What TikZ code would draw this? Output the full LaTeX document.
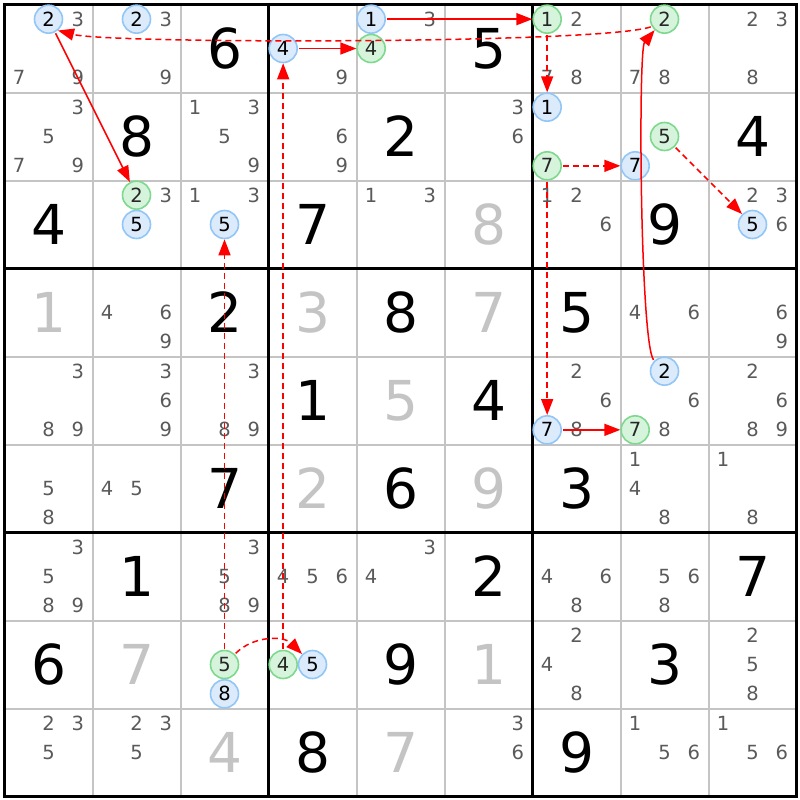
\documentclass[tikz,border=0pt]{standalone}
\usepackage{fontspec}
\setmainfont{DejaVu Sans}
\usetikzlibrary{arrows.meta}
\definecolor{candgray}{HTML}{5A5A5A}
\definecolor{solvgray}{HTML}{C4C4C4}
\definecolor{thingrid}{HTML}{C4C4C4}
\definecolor{bluefill}{HTML}{DCEBFC}
\definecolor{bluedraw}{HTML}{92C6F6}
\definecolor{greenfill}{HTML}{D6F4DC}
\definecolor{greendraw}{HTML}{7ED88E}
\definecolor{arrred}{HTML}{FF0000}
\tikzset{
  cnd/.style={inner sep=0pt, font=\fontsize{19.5}{19.5}\selectfont, text=candgray},
  bc/.style={circle, draw=bluedraw, fill=bluefill, line width=1.6pt, minimum size=28pt, text=black},
  gc/.style={circle, draw=greendraw, fill=greenfill, line width=1.6pt, minimum size=28pt, text=black!85},
  big/.style={inner sep=0pt, font=\fontsize{55}{55}\selectfont, text=black},
  solv/.style={big, text=solvgray},
  arr/.style={draw=arrred, line width=1.5pt, -{Triangle[length=16pt,width=12pt]}, shorten <=1pt},
  dsh/.style={dash pattern=on 6pt off 4pt}
}
\newcommand\cand[4][]{%
  \pgfmathsetmacro\candx{4.5+88*(#3-1)+88/6+88/3*mod(#4-1,3)}%
  \pgfmathsetmacro\candy{4.5+88*(#2-1)+88/6+88/3*floor((#4-1)/3)}%
  \node[cnd,#1] (n#2#3#4) at (\candx,\candy) {#4};}
\newcommand\cands[3]{\foreach \dd in {#3}{\cand{#1}{#2}{\dd}}}
\newcommand\giv[4][]{%
  \pgfmathsetmacro\candx{4.5+88*(#3-1)+44}%
  \pgfmathsetmacro\candy{4.5+88*(#2-1)+44}%
  \node[big,#1] (g#2#3) at (\candx,\candy) {#4};}
\begin{document}
\begin{tikzpicture}[x=1pt,y=-1pt]
\fill[white] (0,0) rectangle (800,800);
\useasboundingbox (0,0) rectangle (800,800);
% grid
\foreach \i in {1,2,4,5,7,8}{
  \draw[thingrid, line width=2pt] ({4.5+88*\i},4.5) -- ({4.5+88*\i},796.5);
  \draw[thingrid, line width=2pt] (4.5,{4.5+88*\i}) -- (796.5,{4.5+88*\i});
}
\foreach \i in {0,3,6,9}{
  \draw[black, line width=3.4pt] ({4.5+88*\i},2.8) -- ({4.5+88*\i},798.2);
  \draw[black, line width=3.4pt] (2.8,{4.5+88*\i}) -- (798.2,{4.5+88*\i});
}
% givens (black)
\giv{1}{3}{6}\giv{1}{6}{5}\giv{2}{2}{8}\giv{2}{5}{2}\giv{2}{9}{4}
\giv{3}{1}{4}\giv{3}{4}{7}\giv{3}{8}{9}\giv{4}{3}{2}\giv{4}{5}{8}
\giv{4}{7}{5}\giv{5}{4}{1}\giv{5}{6}{4}\giv{6}{3}{7}\giv{6}{5}{6}
\giv{6}{7}{3}\giv{7}{2}{1}\giv{7}{6}{2}\giv{7}{9}{7}\giv{8}{1}{6}
\giv{8}{5}{9}\giv{8}{8}{3}\giv{9}{4}{8}\giv{9}{7}{9}
% solved (gray)
\giv[solv]{3}{6}{8}\giv[solv]{4}{1}{1}\giv[solv]{4}{4}{3}\giv[solv]{4}{6}{7}
\giv[solv]{5}{5}{5}\giv[solv]{6}{4}{2}\giv[solv]{6}{6}{9}\giv[solv]{8}{2}{7}
\giv[solv]{8}{6}{1}\giv[solv]{9}{3}{4}\giv[solv]{9}{5}{7}
% candidates row 1
\cand[bc]{1}{1}{2}\cands{1}{1}{3,7,9}
\cand[bc]{1}{2}{2}\cands{1}{2}{3,9}
\cand[bc]{1}{4}{4}\cands{1}{4}{9}
\cand[bc]{1}{5}{1}\cands{1}{5}{3}\cand[gc]{1}{5}{4}
\cand[gc]{1}{7}{1}\cands{1}{7}{2,7,8}
\cand[gc]{1}{8}{2}\cands{1}{8}{7,8}
\cands{1}{9}{2,3,8}
% row 2
\cands{2}{1}{3,5,7,9}
\cands{2}{3}{1,3,5,9}
\cands{2}{4}{6,9}
\cands{2}{6}{3,6}
\cand[bc]{2}{7}{1}\cand[gc]{2}{7}{7}
\cand[gc]{2}{8}{5}\cand[bc]{2}{8}{7}
% row 3
\cand[gc]{3}{2}{2}\cands{3}{2}{3}\cand[bc]{3}{2}{5}
\cands{3}{3}{1,3}\cand[bc]{3}{3}{5}
\cands{3}{5}{1,3}
\cands{3}{7}{1,2,6}
\cands{3}{9}{2,3,6}\cand[bc]{3}{9}{5}
% row 4
\cands{4}{2}{4,6,9}
\cands{4}{8}{4,6}
\cands{4}{9}{6,9}
% row 5
\cands{5}{1}{3,8,9}
\cands{5}{2}{3,6,9}
\cands{5}{3}{3,8,9}
\cands{5}{7}{2,6,8}\cand[bc]{5}{7}{7}
\cand[bc]{5}{8}{2}\cands{5}{8}{6,8}\cand[gc]{5}{8}{7}
\cands{5}{9}{2,6,8,9}
% row 6
\cands{6}{1}{5,8}
\cands{6}{2}{4,5}
\cands{6}{8}{1,4,8}
\cands{6}{9}{1,8}
% row 7
\cands{7}{1}{3,5,8,9}
\cands{7}{3}{3,5,8,9}
\cands{7}{4}{4,5,6}
\cands{7}{5}{3,4}
\cands{7}{7}{4,6,8}
\cands{7}{8}{5,6,8}
% row 8
\cand[gc]{8}{3}{5}\cand[bc]{8}{3}{8}
\cand[gc]{8}{4}{4}\cand[bc]{8}{4}{5}
\cands{8}{7}{2,4,8}
\cands{8}{9}{2,5,8}
% row 9
\cands{9}{1}{2,3,5}
\cands{9}{2}{2,3,5}
\cands{9}{6}{3,6}
\cands{9}{8}{1,5,6}
\cands{9}{9}{1,5,6}
% arrows
\draw[arr] (n112) -- (n322);
\draw[arr,dsh] (n182.210) .. controls (600,44) and (110,44) .. (n112.-50);
\draw[arr] (n582.135) .. controls (640,340) and (638,50) .. (n182.228);
\draw[arr] (n151) -- (n171);
\draw[arr,dsh] (n171) -- (n271);
\draw[arr] (n144) -- (n154);
\draw[arr,dsh] (n844) -- (n144);
\draw[arr,dsh] (n835) to[bend left=45] (n845);
\draw[arr,dsh] (n835) -- (n335);
\draw[arr,dsh] (n277) -- (n577);
\draw[arr,dsh] (n277) -- (n287);
\draw[arr] (n577) -- (n587);
\draw[arr,dsh] (n285) -- (n395);
\end{tikzpicture}
\end{document}
